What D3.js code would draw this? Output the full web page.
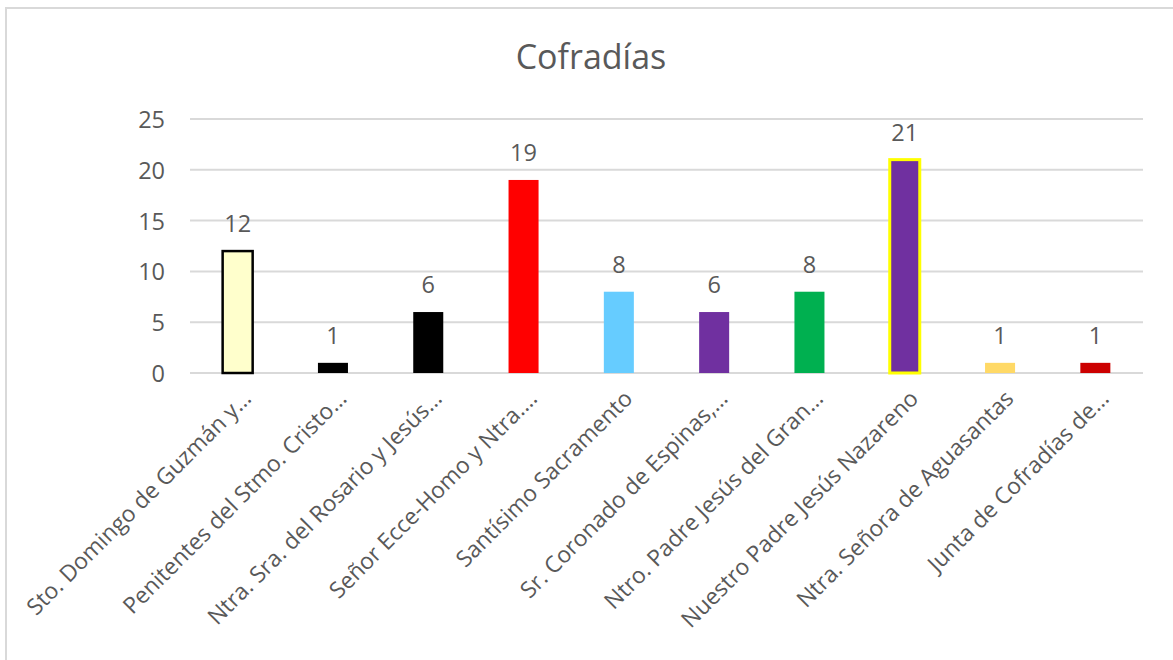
<!DOCTYPE html>
<html lang="es">
<head>
<meta charset="UTF-8">
<script src="https://cdnjs.cloudflare.com/ajax/libs/d3/7.8.5/d3.min.js"></script>
<title>Cofradías</title>
<style>
  body { margin: 0; background: #fff; }
  text { font-family: "Open Sans", sans-serif; fill: #595959; }
</style>
</head>
<body>
<script>
  var categories = [
    "Sto. Domingo de Guzmán y…",
    "Penitentes del Stmo. Cristo…",
    "Ntra. Sra. del Rosario y Jesús…",
    "Señor Ecce-Homo y Ntra.…",
    "Santísimo Sacramento",
    "Sr. Coronado de Espinas,…",
    "Ntro. Padre Jesús del Gran…",
    "Nuestro Padre Jesús Nazareno",
    "Ntra. Señora de Aguasantas",
    "Junta de Cofradías de…"
  ];
  var values = [12, 1, 6, 19, 8, 6, 8, 21, 1, 1];
  var fills = ["#FFFFCC", "#000000", "#000000", "#FF0000", "#66CCFF",
               "#7030A0", "#00B050", "#7030A0", "#FFD966", "#CC0000"];
  var strokes = ["#000000", null, null, null, null, null, null, "#FFFF00", null, null];
  var yTicks = [0, 5, 10, 15, 20, 25];

  var width = 1173, height = 660;

  var svg = d3.select("body").append("svg")
    .attr("width", width)
    .attr("height", height);

  // chart frame
  svg.append("rect")
    .attr("x", 6).attr("y", 8)
    .attr("width", 1200).attr("height", 700)
    .attr("fill", "#fff")
    .attr("stroke", "#D9D9D9")
    .attr("stroke-width", 2);

  var x = d3.scaleBand()
    .domain(categories)
    .range([190, 1143])
    .paddingInner(0.685)
    .paddingOuter(0.3425);

  var y = d3.scaleLinear()
    .domain([0, 25])
    .range([373, 119]);

  // title
  svg.append("text")
    .attr("x", 591).attr("y", 69)
    .attr("text-anchor", "middle")
    .style("font-size", "34px")
    .text("Cofradías");

  // gridlines
  svg.append("g").selectAll("line")
    .data(yTicks)
    .enter().append("line")
    .attr("x1", 190).attr("x2", 1143)
    .attr("y1", function(d) { return y(d); })
    .attr("y2", function(d) { return y(d); })
    .attr("stroke", "#D9D9D9")
    .attr("stroke-width", 2);

  // y axis labels
  var yAxis = d3.axisLeft(y).tickValues(yTicks).tickSize(0).tickPadding(0);
  var ga = svg.append("g")
    .attr("transform", "translate(165,0)")
    .call(yAxis);
  ga.select(".domain").remove();
  ga.selectAll("text")
    .style("font-size", "23.5px")
    .attr("fill", "#595959")
    .attr("font-family", "Open Sans")
    .attr("dy", "0.36em");

  // bars
  svg.append("g").selectAll("rect")
    .data(values)
    .enter().append("rect")
    .attr("x", function(d, i) { return x(categories[i]); })
    .attr("y", function(d) { return y(d); })
    .attr("width", x.bandwidth())
    .attr("height", function(d) { return y(0) - y(d); })
    .attr("fill", function(d, i) { return fills[i]; })
    .attr("stroke", function(d, i) { return strokes[i] || "none"; })
    .attr("stroke-width", function(d, i) { return i === 7 ? 3 : 2.5; });

  // data labels
  svg.append("g").selectAll("text")
    .data(values)
    .enter().append("text")
    .attr("x", function(d, i) { return x(categories[i]) + x.bandwidth() / 2; })
    .attr("y", function(d) { return y(d) - 19; })
    .attr("text-anchor", "middle")
    .style("font-size", "23.5px")
    .text(function(d) { return d; });

  // category labels, rotated
  svg.append("g").selectAll("text")
    .data(categories)
    .enter().append("text")
    .attr("transform", function(d) {
      var cx = x(d) + x.bandwidth() / 2;
      return "translate(" + (cx + 15) + ",400) rotate(-45)";
    })
    .attr("text-anchor", "end")
    .style("font-size", "22.8px")
    .text(function(d) { return d; });
</script>
</body>
</html>
